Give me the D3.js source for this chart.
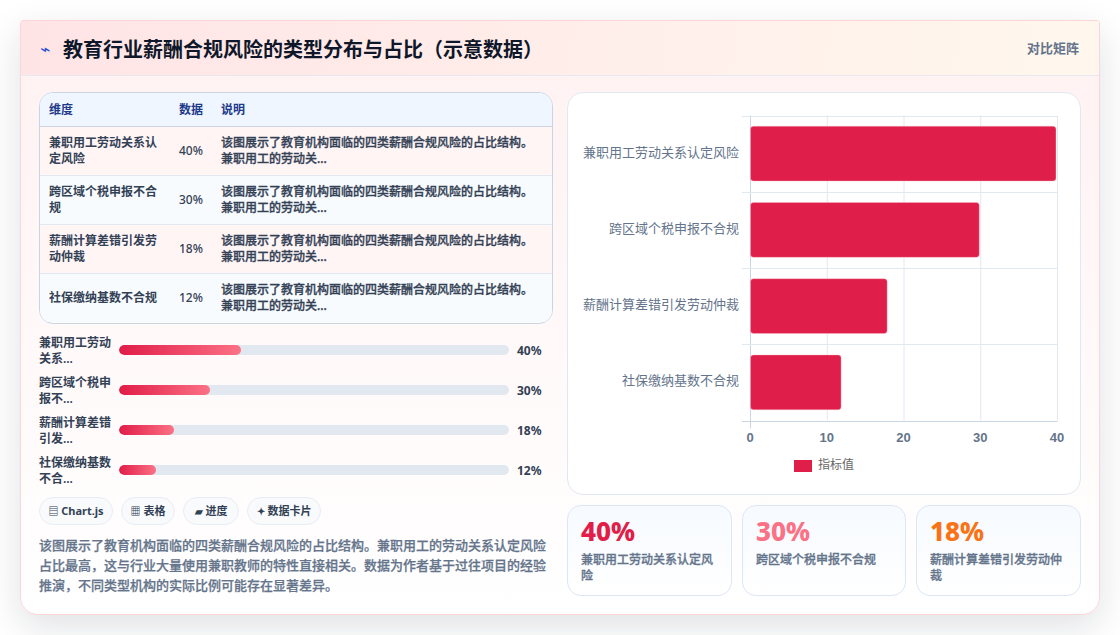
<!DOCTYPE html>
<html lang="zh-CN">
<head>
<meta charset="utf-8">
<script src="https://cdn.jsdelivr.net/npm/d3@7"></script>
<style>
  * { box-sizing: border-box; }
  html, body { margin: 0; width: 1120px; height: 635px; overflow: hidden; background: #fff; }
  body { font-family: "Noto Sans", "Noto Sans CJK SC", sans-serif; color: #1e293b; position: relative; }
  .card { position: absolute; left: 20px; top: 20px; width: 1080px; height: 595px; border-radius: 3px 3px 18px 18px;
          border: 1px solid #fbd5d9; overflow: hidden;
          background: linear-gradient(180deg, #fff1f2 0%, #ffffff 100%); }
  .shadow { position: absolute; left: 20px; top: 20px; width: 1080px; height: 595px; border-radius: 3px 3px 18px 18px;
          box-shadow: 0 12px 36px rgba(15, 23, 42, .13); }
  .head { position: absolute; left: 0; top: 0; right: 0; height: 55px;
          background: linear-gradient(100deg, #ffe4e6 0%, #fff7ed 100%); border-bottom: 1px solid #e6e8f2; }
  .head .icon { position: absolute; left: 19px; top: 15px; font-size: 17px; color: #1d4ed8; font-family: "DejaVu Sans"; line-height: 26px; }
  .head h1 { position: absolute; left: 42px; top: 13px; margin: 0; font-size: 20px; line-height: 32px; font-weight: 700; color: #0f172a; white-space: nowrap; }
  .head .tag { position: absolute; right: 20px; top: 17px; font-size: 13px; line-height: 20px; font-weight: 600; color: #64748b; }
  .tbl { position: absolute; left: 18px; top: 71px; width: 514px; height: 232px; border: 1px solid #cbd5e1; border-radius: 14px;
         overflow: hidden; background: #fff; }
  table { border-collapse: collapse; width: 100%; table-layout: fixed; font-size: 12px; line-height: 16px; }
  th { height: 33px; padding: 1px 0 0 9px; background: #eff6ff; color: #1e3a8a; text-align: left; font-weight: 600; border-bottom: 1px solid #cbd5e1; }
  td { height: 49px; padding: 0 0 0 9px; font-weight: 500; color: #334155; border-bottom: 1px solid #e2e8f0; }
  td:first-child { padding-right: 12px; font-weight: 600; }
  td:last-child { padding-right: 18px; -webkit-text-stroke: 0.3px #334155; }
  tr:last-child td { border-bottom: 0; }
  tbody tr:nth-child(odd) td { background: #fff5f5; }
  tbody tr:nth-child(even) td { background: #f8fbfe; }
  .prog { position: absolute; left: 18px; }
  .prog .lab { position: absolute; left: 0; top: 0; width: 74px; font-size: 12px; line-height: 16px; font-weight: 600; color: #334155; }
  .prog .track { position: absolute; left: 80px; top: 10px; width: 390px; height: 10px; border-radius: 5px; background: #e2e8f0; overflow: hidden; }
  .prog .fill { height: 100%; border-radius: 5px; background: linear-gradient(90deg, #e11d48, #fb7185); }
  .prog .val { position: absolute; left: 478px; top: 8px; font-size: 12px; line-height: 16px; font-weight: 700; color: #334155; }
  .pill { position: absolute; top: 476px; height: 28px; border: 1px solid #e8edf3; border-radius: 14px; background: #f8fafc;
          font-size: 11px; line-height: 26px; font-weight: 700; color: #334155; text-align: center; white-space: nowrap; }
  .pill .glyph { font-size: 10px; }
  .desc { position: absolute; left: 18px; top: 514px; width: 515px; margin: 0; font-size: 13px; line-height: 20px; font-weight: 500; color: #64748b; -webkit-text-stroke: 0.25px #64748b; }
  .panel { position: absolute; left: 546px; top: 71px; width: 514px; height: 403px; background: #fff; border: 1px solid #e2e8f0; border-radius: 16px; }
  svg.chart { position: absolute; left: 546px; top: 71px; }
  .stat { position: absolute; top: 484px; height: 91px; border: 1px solid #dbe7f5; border-radius: 14px; background: linear-gradient(180deg, #f6faff, #ffffff); }
  .stat .num { position: absolute; left: 13px; top: 8px; font-size: 26px; line-height: 34px; font-weight: 800; }
  .stat .txt { position: absolute; left: 13px; top: 46px; right: 12px; font-size: 12px; line-height: 16px; font-weight: 500; color: #64748b; -webkit-text-stroke: 0.3px #64748b; }
</style>
</head>
<body>
<div class="shadow"></div>
<div class="card" id="card"></div>
<script>
// Risk categories and their shares (percent)
const categories = ["兼职用工劳动关系认定风险", "跨区域个税申报不合规", "薪酬计算差错引发劳动仲裁", "社保缴纳基数不合规"];
const shares = [40, 30, 18, 12];
const shortLabels = ["兼职用工劳动关系...", "跨区域个税申报不...", "薪酬计算差错引发...", "社保缴纳基数不合..."];
const tableNote = "该图展示了教育机构面临的四类薪酬合规风险的占比结构。兼职用工的劳动关...";
const tableHeaders = ["维度", "数据", "说明"];
const axisTicks = [0, 10, 20, 30, 40];
const pillIcons = ["▤", "▦", "▰", "✦"];
const pillNames = ["Chart.js", "表格", "进度", "数据卡片"];
const pillLefts = [18, 100, 162, 226];
const pillWidths = [74, 54, 56, 74];
const statColors = ["#e11d48", "#fb7185", "#f97316"];
const statLefts = [546, 721, 895];
const statWidths = [165, 164, 165];
const titleText = "教育行业薪酬合规风险的类型分布与占比（示意数据）";
const tagText = "对比矩阵";
const descText = "该图展示了教育机构面临的四类薪酬合规风险的占比结构。兼职用工的劳动关系认定风险占比最高，这与行业大量使用兼职教师的特性直接相关。数据为作者基于过往项目的经验推演，不同类型机构的实际比例可能存在显著差异。";
const legendLabel = "指标值";

const card = d3.select("#card");

// Header strip
const head = card.append("div").attr("class", "head");
head.append("span").attr("class", "icon").text("⌁");
head.append("h1").text(titleText);
head.append("span").attr("class", "tag").text(tagText);

// Comparison table
const table = card.append("div").attr("class", "tbl").append("table");
table.append("colgroup").selectAll("col").data([130, 42, 340]).join("col").style("width", d => d + "px");
table.append("thead").append("tr").selectAll("th").data(tableHeaders).join("th").text(d => d);
const rows = table.append("tbody").selectAll("tr").data(categories).join("tr");
rows.append("td").text(d => d);
rows.append("td").text((d, i) => shares[i] + "%");
rows.append("td").text(tableNote);

// Progress rows
const progressWidth = d3.scaleLinear().domain([0, 128]).range([0, 390]);
const prog = card.selectAll(".prog").data(categories).join("div").attr("class", "prog")
  .style("top", (d, i) => 313.5 + i * 40 + "px");
prog.append("div").attr("class", "lab").text((d, i) => shortLabels[i]);
prog.append("div").attr("class", "track").append("div").attr("class", "fill")
  .style("width", (d, i) => progressWidth(shares[i]) + "px");
prog.append("div").attr("class", "val").text((d, i) => shares[i] + "%");

// Technique pills
const pill = card.selectAll(".pill").data(pillNames).join("div").attr("class", "pill")
  .style("left", (d, i) => pillLefts[i] + "px")
  .style("width", (d, i) => pillWidths[i] + "px");
pill.append("span").attr("class", "glyph").text((d, i) => pillIcons[i]);
pill.append("span").text(d => " " + d);

card.append("p").attr("class", "desc").text(descText);

// Horizontal bar chart
card.append("div").attr("class", "panel");
const svg = card.append("svg").attr("class", "chart").attr("width", 514).attr("height", 403);
const chartFont = '"Liberation Sans", "Noto Sans CJK SC", sans-serif';
const plotTop = 23.5, plotBottom = 328.5;
const x = d3.scaleLinear().domain([0, 40]).range([183.5, 490.5]);
const y = d3.scaleBand().domain(categories).range([plotTop, plotBottom]);
const barBand = d3.scaleBand().domain(categories).range([plotTop, plotBottom]).paddingInner(0.28).paddingOuter(0.14);

const grid = svg.append("g");
grid.selectAll("line.v").data(axisTicks).join("line").attr("class", "v")
  .attr("x1", d => x(d)).attr("x2", d => x(d))
  .attr("y1", plotTop).attr("y2", d => d === 0 ? plotBottom + 8 : plotBottom)
  .attr("stroke", d => d === 0 ? "#cbd5e1" : "#e2e8f0");
grid.selectAll("line.h").data(d3.range(categories.length + 1)).join("line").attr("class", "h")
  .attr("x1", 175).attr("x2", x(40))
  .attr("y1", i => Math.round(plotTop + i * y.bandwidth()) + 0.5)
  .attr("y2", i => Math.round(plotTop + i * y.bandwidth()) + 0.5)
  .attr("stroke", i => i === categories.length ? "#cbd5e1" : "#e2e8f0");

svg.selectAll("rect.bar").data(categories).join("rect").attr("class", "bar")
  .attr("x", x(0)).attr("y", d => barBand(d))
  .attr("width", (d, i) => x(shares[i]) - x(0) - 1.5).attr("height", barBand.bandwidth())
  .attr("rx", 3).attr("fill", "#e01e4a").attr("stroke", "#fbc4cf").attr("stroke-width", 0.4);

svg.selectAll("text.cat").data(categories).join("text").attr("class", "cat")
  .attr("x", 172).attr("y", d => y(d) + y.bandwidth() / 2 + 3)
  .attr("text-anchor", "end").attr("font-family", chartFont).attr("font-size", 13).attr("fill", "#64748b")
  .text(d => d);

const xAxis = d3.axisBottom(x).tickValues(axisTicks).tickSize(0).tickPadding(12).offset(0);
svg.append("g").attr("transform", `translate(-0.5,${plotBottom})`).call(xAxis)
  .call(g => g.select(".domain").remove())
  .call(g => g.selectAll("text").attr("font-family", chartFont).attr("font-size", 13).attr("font-weight", 700).attr("fill", "#64748b"));

const legend = svg.append("g").attr("transform", "translate(227,368)");
legend.append("rect").attr("width", 18).attr("height", 12).attr("fill", "#e01e4a");
legend.append("text").attr("x", 24).attr("y", 8.5).attr("font-family", chartFont).attr("font-size", 12).attr("fill", "#666").text(legendLabel);

// Headline stat cards
const stat = card.selectAll(".stat").data(statColors).join("div").attr("class", "stat")
  .style("left", (d, i) => statLefts[i] + "px")
  .style("width", (d, i) => statWidths[i] + "px");
stat.append("div").attr("class", "num").style("color", d => d).text((d, i) => shares[i] + "%");
stat.append("div").attr("class", "txt").text((d, i) => categories[i]);
</script>
</body>
</html>
